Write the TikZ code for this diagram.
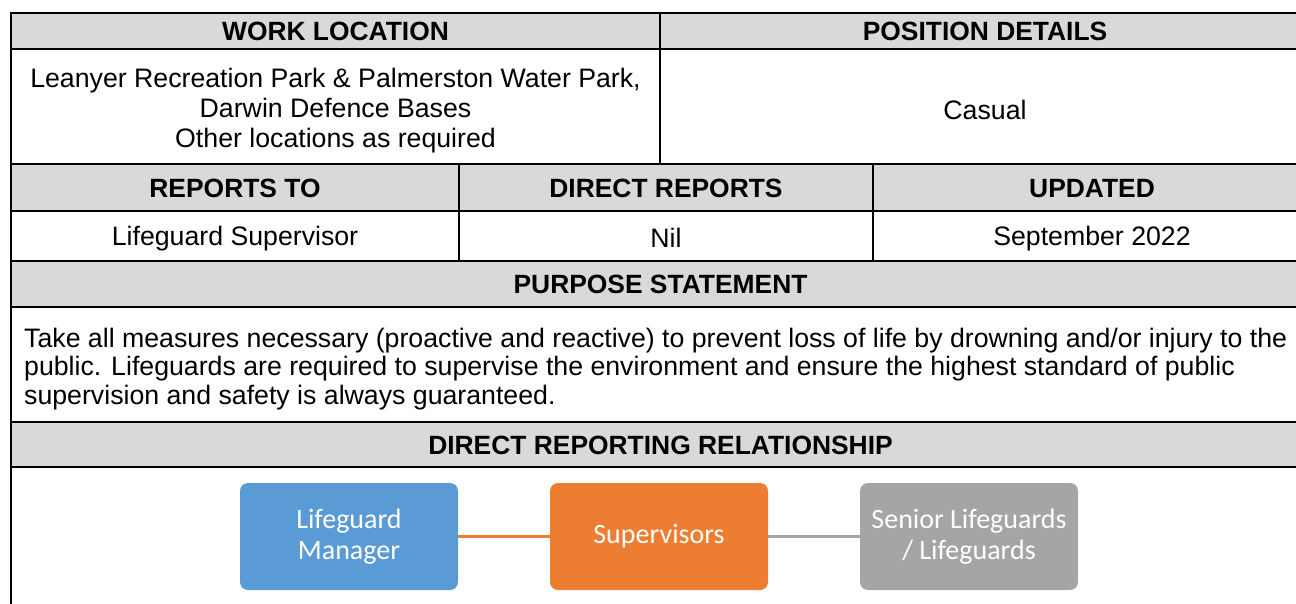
\documentclass[tikz,border=0pt]{standalone}
\usepackage{fontspec}
\setmainfont{Liberation Sans}
\newfontfamily\boxfont{Carlito}
\definecolor{hdrgray}{HTML}{D9D9D9}
\definecolor{boxblue}{HTML}{5B9BD5}
\definecolor{boxorange}{HTML}{ED7D31}
\definecolor{boxgray}{HTML}{A5A5A5}
\begin{document}
\begin{tikzpicture}[x=1pt,y=-1pt,
  hdr/.style={font=\fontsize{26.4}{30}\selectfont\bfseries, inner sep=0pt},
  cell/.style={font=\fontsize{26.7}{30}\selectfont, inner sep=0pt, align=center},
  orgbox/.style={rounded corners=8pt, minimum width=218pt, minimum height=107pt, text=white, font=\boxfont\fontsize{28}{31}\selectfont, align=center, inner sep=0pt},
  gridline/.style={line width=2pt, line cap=rect},
  link/.style={line width=2.4pt}]
\useasboundingbox (0,0) rectangle (1296,603);
\clip (0,0) rectangle (1296,603);
% header fills
\fill[hdrgray] (11,12.5) rectangle (1320,49);
\fill[hdrgray] (11,164) rectangle (1320,211);
\fill[hdrgray] (11,261) rectangle (1320,307);
\fill[hdrgray] (11,422) rectangle (1320,467);
% grid lines
\draw[gridline] (1320,12.5) -- (11,12.5) -- (11,620);
\foreach \yy in {49,164,211,261,307,422,467}
  \draw[gridline] (11,\yy) -- (1320,\yy);
\draw[gridline] (660,12.5) -- (660,164);
\draw[gridline] (459,164) -- (459,261);
\draw[gridline] (873,164) -- (873,261);
% headers
\node[hdr] (hwork) at (335.5,31.5) {WORK LOCATION};
\node[hdr] (hpos) at (985,31.5) {POSITION DETAILS};
\node[hdr] (hrep) at (235,188.5) {REPORTS TO};
\node[hdr] (hdir) at (666,188.5) {DIRECT REPORTS};
\node[hdr] (hupd) at (1092,188.5) {UPDATED};
\node[hdr] (hpur) at (660.5,284.5) {PURPOSE STATEMENT};
\node[hdr] (hdrr) at (660.5,445) {DIRECT REPORTING RELATIONSHIP};
% cells
\node[cell] (cwork) at (335.5,111) {Leanyer Recreation Park \& Palmerston Water Park,\\ Darwin Defence Bases\\ Other locations as required};
\node[cell] (cpos) at (985,110) {Casual};
\node[cell] (crep) at (235,239) {Lifeguard Supervisor};
\node[cell] (cdir) at (666,238) {Nil};
\node[cell] (cupd) at (1092,239) {September 2022};
\node[cell, font=\fontsize{26.7}{28.5}\selectfont, align=left, anchor=west] (cpur) at (24,369) {Take all measures necessary (proactive and reactive) to prevent loss of life by drowning and/or injury to the\\ public. Lifeguards are required to supervise the environment and ensure the highest standard of public\\ supervision and safety is always guaranteed.};
% org chart
\node[orgbox, fill=boxblue] (mgr) at (349,536.5) {Lifeguard\\ Manager};
\node[orgbox, fill=boxorange] (sup) at (659,536.5) {\raisebox{-2pt}{Supervisors}};
\node[orgbox, fill=boxgray] (lg) at (969,536.5) {Senior Lifeguards\\ / Lifeguards};
\draw[link, boxorange] (mgr) -- (sup);
\draw[link, boxgray] (sup) -- (lg);
\end{tikzpicture}
\end{document}
